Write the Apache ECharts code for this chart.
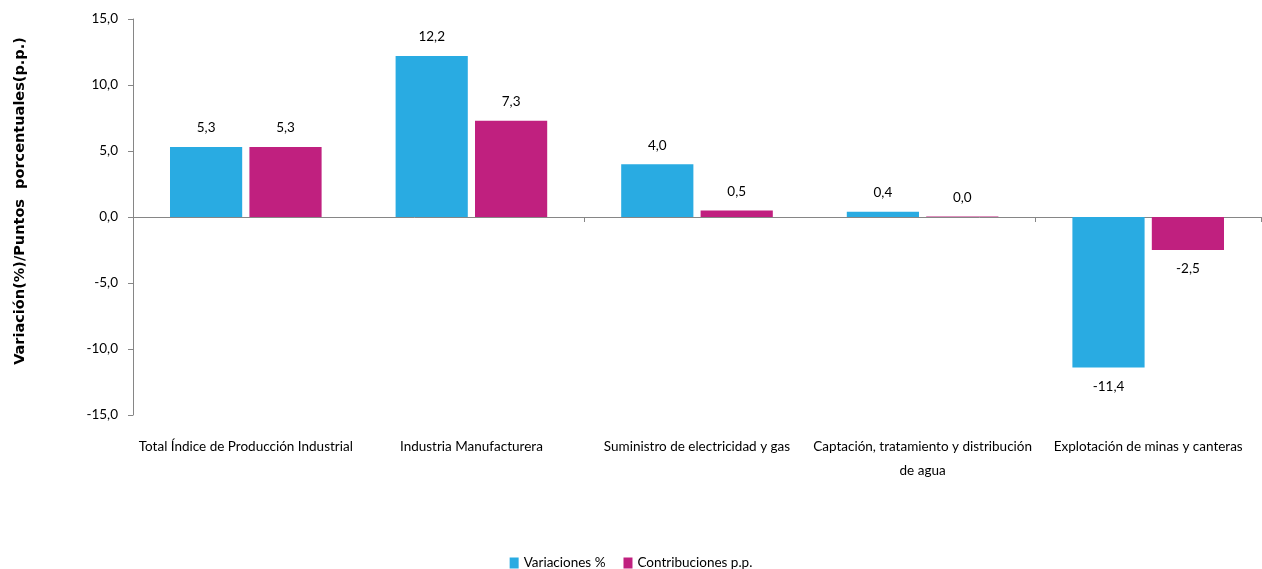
<!DOCTYPE html>
<html>
<head>
<meta charset="utf-8">
<script src="https://cdn.jsdelivr.net/npm/echarts@6/dist/echarts.min.js"></script>
<style>html,body{margin:0;padding:0;background:#fff}#c{width:1262px;height:569px}</style>
</head>
<body>
<div id="c"></div>
<script>
const categories = [
  "Total Índice de Producción Industrial",
  "Industria Manufacturera",
  "Suministro de electricidad y gas",
  "Captación, tratamiento y distribución de agua",
  "Explotación de minas y canteras"
];
const variaciones = [5.3, 12.2, 4.0, 0.4, -11.4];
const contribuciones = [5.3, 7.3, 0.5, 0.04, -2.5];
const seriesNames = ["Variaciones %", "Contribuciones p.p."];
const yTitle = "Variación(%)/Puntos  porcentuales(p.p.)";

const FONT = "Lato, 'Liberation Sans', sans-serif";
const FS = 13.5;
const fmt = v => v.toFixed(1).replace('.', ',');
const mkData = arr => arr.map(v => ({ value: v, label: { position: v < 0 ? 'bottom' : 'top' } }));
// simple word wrap at max characters per line
const wrap = (s, maxChars) => {
  const words = s.split(' ');
  const lines = [];
  let cur = '';
  words.forEach(w => {
    const t = cur ? cur + ' ' + w : w;
    if (t.length > maxChars && cur) { lines.push(cur); cur = w; } else { cur = t; }
  });
  if (cur) lines.push(cur);
  return lines.join('\n');
};

const chart = echarts.init(document.getElementById('c'));
chart.setOption({
  animation: false,
  textStyle: { fontFamily: FONT },
  grid: { left: 133, right: 1, top: 19, bottom: 154, containLabel: false, outerBoundsMode: 'none' },
  graphic: [{
    type: 'text', x: 20, y: 201, rotation: Math.PI / 2,
    style: { text: yTitle, fontFamily: 'DejaVu Sans', fontWeight: 'bold', fontSize: 14.5, fill: '#000',
      align: 'center', verticalAlign: 'middle' }
  }],
  legend: {
    top: 551, left: 'center',
    itemWidth: 9, itemHeight: 11, itemGap: 18,
    icon: 'rect',
    textStyle: { fontFamily: FONT, fontSize: FS, color: '#000' },
    data: seriesNames
  },
  xAxis: [
    {
      type: 'category', data: categories, position: 'bottom',
      axisLine: { show: false, onZero: false }, axisTick: { show: false },
      axisLabel: { interval: 0, fontSize: FS, color: '#000', fontFamily: FONT, margin: 20,
        lineHeight: 24, hideOverlap: false, formatter: v => wrap(v, 38) }
    },
    {
      type: 'category', data: categories, position: 'top',
      axisLine: { show: true, onZero: true, lineStyle: { color: '#868686', width: 1 } },
      axisTick: { show: true, inside: true, length: 5, lineStyle: { color: '#868686' } },
      axisLabel: { show: false }
    }
  ],
  yAxis: {
    type: 'value', min: -15, max: 15, interval: 5,
    axisLine: { show: true, lineStyle: { color: '#868686' } },
    axisTick: { show: true, length: 5, lineStyle: { color: '#868686' } },
    splitLine: { show: false },
    axisLabel: { fontSize: FS, color: '#000', fontFamily: FONT, margin: 15, formatter: v => fmt(v) }
  },
  series: [
    {
      name: seriesNames[0], type: 'bar', xAxisIndex: 0, data: mkData(variaciones),
      barWidth: '32%', barGap: '10%',
      itemStyle: { color: '#29ABE2' },
      label: { show: true, distance: 12, fontSize: FS, color: '#000', fontFamily: FONT, formatter: p => fmt(p.value) }
    },
    {
      name: seriesNames[1], type: 'bar', xAxisIndex: 0, data: mkData(contribuciones),
      barWidth: '32%', barGap: '10%',
      itemStyle: { color: '#C0207F' },
      label: { show: true, distance: 12, fontSize: FS, color: '#000', fontFamily: FONT, formatter: p => fmt(p.value) }
    }
  ]
});
</script>
</body>
</html>
